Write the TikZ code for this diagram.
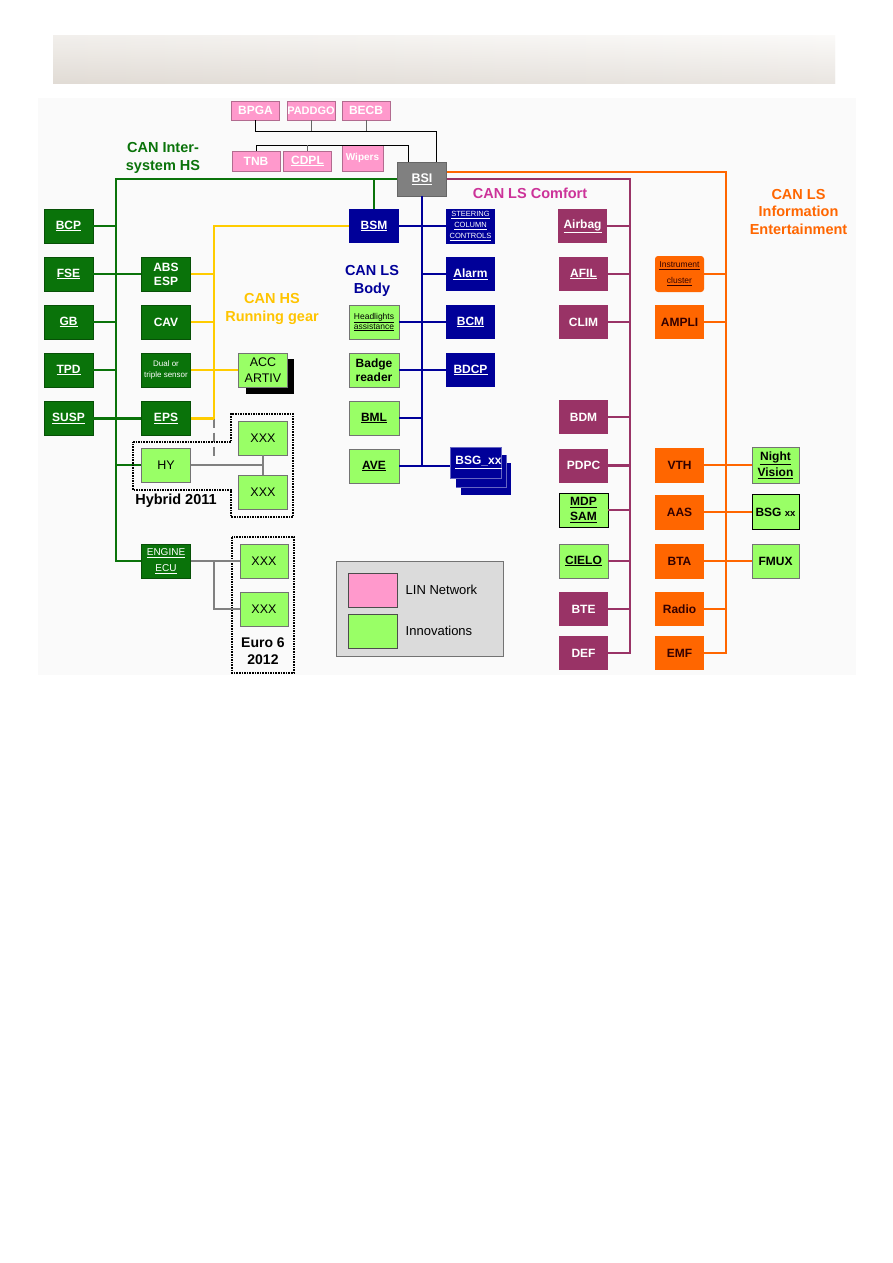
\documentclass[tikz,border=0pt]{standalone}
\usepackage{fontspec}
\setmainfont{Liberation Sans}
\usetikzlibrary{positioning}

\definecolor{cgreen}{RGB}{10,115,10}
\definecolor{clgreen}{RGB}{153,255,102}
\definecolor{cyellow}{RGB}{255,204,0}
\definecolor{cblue}{RGB}{0,0,153}
\definecolor{cpurple}{RGB}{153,51,102}
\definecolor{cmagenta}{RGB}{204,51,153}
\definecolor{corange}{RGB}{255,102,0}
\definecolor{cpink}{RGB}{255,153,204}
\definecolor{cgray}{RGB}{128,128,128}
\definecolor{hdark}{RGB}{212,204,195}
\definecolor{hlight}{RGB}{246,244,241}

\newcommand{\fsz}[2]{\fontsize{#1}{#2}\selectfont}

\tikzset{
	box/.style={minimum width=49pt, minimum height=34pt, inner sep=0pt, align=center, font=\bfseries\fsz{12}{14}},
	gbox/.style={box, fill=cgreen, draw=cgreen!70!black, text=white},
	bbox/.style={box, fill=cblue, text=white},
	pbox/.style={box, fill=cpurple, text=white},
	obox/.style={box, fill=corange, text=black!80!red},
	nbox/.style={box, fill=clgreen, draw=black!55, text=black},
	xbox/.style={nbox, font=\fsz{12.5}{16}},
	lbox/.style={box, fill=cpink, draw=cpink!70!black, text=white, minimum height=19pt, minimum width=48pt},
	bus/.style={line width=2.6pt},
	gbus/.style={bus, draw=cgreen},
	ybus/.style={bus, draw=cyellow},
	bbus/.style={bus, draw=cblue},
	pbus/.style={bus, draw=cpurple},
	obus/.style={bus, draw=corange},
	grbus/.style={bus, draw=cgray},
	linline/.style={line width=1pt, draw=black},
	netlabel/.style={font=\bfseries\fsz{14.5}{17.5}, align=center},
	frame/.style={densely dotted, line width=1.6pt}
}

\begin{document}
\begin{tikzpicture}[x=1pt,y=-1pt]
	\useasboundingbox (0,0) rectangle (893,1263);
	% header band and background
	\shade[top color=hlight, bottom color=hdark] (53,36) rectangle (835,83);
	\shade[left color=hdark!40!white, right color=white, opacity=0.5] (53,36) rectangle (835,83);
	\fill[black!2] (38,98) rectangle (856,675);

	% LIN network
	\node[lbox] (BPGA) at (255.5,110.5) {BPGA};
	\node[lbox, font=\bfseries\fsz{11}{13}] (PADDGO) at (311,110.5) {PADDGO};
	\node[lbox] (BECB) at (366,110.5) {BECB};
	\node[lbox, minimum height=20pt] (TNB) at (256,161) {TNB};
	\node[lbox, minimum height=20pt] (CDPL) at (307.5,161) {\underline{CDPL}};
	\node[lbox, minimum width=41pt, minimum height=26pt, font=\bfseries\fsz{10}{12}] (Wipers) at (362.5,158) {Wipers};

	\node[box, fill=cgray, draw=black!60, text=white, font=\bfseries\fsz{12.5}{14}] (BSI) at (422,179) {\underline{BSI}};

	\coordinate (linA) at (436,131);
	\coordinate (linB) at (408,145);
	\draw[linline] (BPGA.south) |- (linA) -- (linA |- BSI.north);
	\draw[linline, black!60] (PADDGO.south) -- (PADDGO.south |- linA);
	\draw[linline, black!60] (BECB.south) -- (BECB.south |- linA);
	\draw[linline] (TNB.north) |- (linB) -- (linB |- BSI.north);
	\draw[linline, black!60] (CDPL.north) -- (CDPL.north |- linB);

	% CAN inter-system HS
	\foreach \n/\y in {BCP/226,FSE/274,GB/322,TPD/370,SUSP/418.5} {
		\node[gbox] (\n) at (68.5,\y) {\underline{\n}};
	}
	\node[gbox] (ABS) at (166,274) {ABS\\ESP};
	\node[gbox, font=\fsz{8}{11}] (DUAL) at (166,370) {Dual or\\triple sensor};
	\node[gbox] (CAV) at (166,322) {CAV};
	\node[gbox] (EPS) at (166,418.5) {\underline{EPS}};
	\node[xbox] (HY) at (166,465) {HY};
	\node[gbox, font=\fsz{10}{12}] (ECU) at (166,561) {\underline{ENGINE}\\[4pt]\underline{ECU}};

	% CAN LS body
	\node[bbox, minimum width=50pt] (BSM) at (374,226) {\underline{BSM}};
	\node[nbox, minimum width=50pt, font=\fsz{8.5}{10}] (HEAD) at (374,322) {\underline{Headlights}\\\underline{assistance}};
	\node[nbox, minimum width=50pt] (BADGE) at (374,370) {Badge\\reader};
	\node[nbox, minimum width=50pt] (BML) at (374,418) {\underline{BML}};
	\node[nbox, minimum width=50pt] (AVE) at (374,466) {\underline{AVE}};
	\node[bbox, font=\fsz{7.5}{9}, minimum height=35pt] (STEER) at (470.5,226) {\underline{STEERING}\\[2pt]\underline{COLUMN}\\[2pt]\underline{CONTROLS}};
	\node[bbox] (ALARM) at (470.5,274) {\underline{Alarm}};
	\node[bbox] (BCM) at (470.5,322) {\underline{BCM}};
	\node[bbox] (BDCP) at (470.5,370) {\underline{BDCP}};
	\fill[cblue] (461,463) rectangle (511,495);
	\draw[cblue!60!white, line width=0.6pt] (456,455) rectangle (506,487);
	\fill[cblue] (456,455) rectangle (506,487);
	\node[bbox, minimum width=50pt, minimum height=31pt, draw=cblue!60!white, line width=0.6pt] (BSGa) at (476,462.5) {\hspace*{5pt}\underline{BSG\_xx}};
	\node[netlabel, text=cblue] (lblBody) at (372,281) {CAN LS\\Body};

	\coordinate (gnw) at (116,179);
	\coordinate (gsw) at (116,561);
	\draw[gbus] (BSI.west) -- (gnw) -- (gsw) -- (ECU.west);
	\draw[gbus] (BSM.north) -- (BSM.north |- gnw);
	\foreach \n in {BCP,GB,TPD} {
		\draw[gbus] (\n.east) -- (\n.east -| gnw);
	}
	\draw[gbus] (FSE) -- (ABS);
	\draw[gbus] (SUSP) -- (EPS);
	\draw[gbus] (HY.west) -- (HY.west -| gnw);
	\node[netlabel, text=cgreen] (lblInter) at (163,158) {CAN Inter-\\system HS};

	% CAN HS running gear
	\fill[black] (246,359) rectangle (294,394);
	\node[xbox] (ACC) at (263,370) {ACC\\ARTIV};
	\node[netlabel, text=cyellow!90!orange] (lblRun) at (272,309) {CAN HS\\Running gear};

	\coordinate (ytop) at (214,226);
	\coordinate (ybot) at (214,418.5);
	\coordinate (ydash) at (214,456);
	\draw[bus, cgray, dash pattern=on 9pt off 5pt] (ybot) -- (ydash);
	\draw[ybus] (BSM.west) -- (ytop) -- (ybot);
	\foreach \n in {ABS,CAV,EPS} {
		\draw[ybus] (\n.east) -- (\n.east -| ytop);
	}
	\draw[ybus] (DUAL) -- (ACC);

	% hybrid 2011
	\node[xbox] (XXXa) at (263,438) {XXX};
	\node[xbox] (XXXb) at (263,492) {XXX};
	\draw[frame] (133,442) -- (231,442) -- (231,414) -- (293,414) -- (293,517) -- (231,517) -- (231,490) -- (133,490) -- cycle;
	\draw[grbus] (HY.east) -- (HY.east -| XXXa.south);
	\draw[grbus] (XXXa) -- (XXXb);
	\node[font=\bfseries\fsz{14.5}{17}] (lblHybrid) at (176,501) {Hybrid 2011};

	% euro 6 2012
	\node[xbox, minimum width=48pt] (XXXc) at (264,561) {XXX};
	\node[xbox, minimum width=48pt] (XXXd) at (264,609) {XXX};
	\draw[frame] (232,537) rectangle (294,673);
	\coordinate (euroFork) at (214,561);
	\draw[grbus] (ECU) -- (XXXc);
	\draw[grbus] (euroFork) |- (XXXd.west);
	\node[font=\bfseries\fsz{14}{17}, align=center] (lblEuro) at (263,651) {Euro 6\\2012};

	\coordinate (bbot) at (422,466);
	\draw[bbus] (BSI.south) -- (bbot) -- (bbot -| BSGa.west);
	\draw[bbus] (BSM) -- (STEER);
	\draw[bbus] (HEAD) -- (BCM);
	\draw[bbus] (BADGE) -- (BDCP);
	\foreach \n in {ALARM} {
		\draw[bbus] (\n.west) -- (\n.west -| bbot);
	}
	\foreach \n in {BML,AVE} {
		\draw[bbus] (\n.east) -- (\n.east -| bbot);
	}

	% CAN LS comfort
	\node[pbox] (AIRBAG) at (582.5,226) {\underline{Airbag}};
	\node[pbox] (AFIL) at (583.5,274) {\underline{AFIL}};
	\node[pbox] (CLIM) at (583.5,322) {CLIM};
	\node[pbox] (BDM) at (583.5,417) {BDM};
	\node[pbox] (PDPC) at (583.5,465.5) {PDPC};
	\node[nbox, draw=black, font=\bfseries\fsz{12}{15.5}] (MDP) at (583.5,510) {\underline{MDP}\\\underline{SAM}};
	\node[nbox] (CIELO) at (583.5,561) {\underline{CIELO}};
	\node[pbox] (BTE) at (583.5,609) {BTE};
	\node[pbox] (DEF) at (583.5,653) {DEF};
	\node[netlabel, text=cmagenta] (lblComfort) at (530,193) {CAN LS Comfort};

	\coordinate (pne) at (630,179);
	\coordinate (pse) at (630,653);
	\draw[pbus] (BSI.east) -- (pne) -- (pse) -- (DEF.east);
	\foreach \n in {AIRBAG,AFIL,CLIM,BDM,PDPC,MDP,CIELO,BTE} {
		\draw[pbus] (\n.east) -- (\n.east -| pne);
	}

	% CAN LS information entertainment
	\node[obox, rounded corners=3pt, font=\fsz{8.5}{10}, minimum height=36pt] (INSTR) at (679.5,274) {\underline{Instrument}\\[6pt]\underline{cluster}};
	\node[obox] (AMPLI) at (679.5,322) {AMPLI};
	\node[obox, minimum height=35pt] (VTH) at (679.5,465) {VTH};
	\node[obox, minimum height=35pt] (AAS) at (679.5,512) {AAS};
	\node[obox, minimum height=35pt] (BTA) at (679.5,561) {BTA};
	\node[obox] (RADIO) at (679.5,609) {Radio};
	\node[obox] (EMF) at (679.5,653) {EMF};
	\node[nbox, minimum width=47pt, minimum height=36pt, font=\bfseries\fsz{12}{16}] (NIGHT) at (775.5,465) {\underline{Night}\\\underline{Vision}};
	\node[nbox, minimum width=47pt, minimum height=35pt, draw=black] (BSGR) at (775.5,512) {BSG {\fsz{9.5}{11}xx}};
	\node[nbox, minimum width=47pt] (FMUX) at (775.5,561) {FMUX};
	\node[netlabel, text=corange] (lblInfo) at (798.5,212) {CAN LS\\Information\\Entertainment};

	\coordinate (bsiTop) at ([yshift=7pt]BSI.east);
	\coordinate (one) at (726,172);
	\coordinate (ose) at (726,653);
	\draw[obus] (bsiTop) -- (one) -- (ose) -- (EMF.east);
	\foreach \n in {INSTR,AMPLI,RADIO} {
		\draw[obus] (\n.east) -- (\n.east -| one);
	}
	\draw[obus] (VTH) -- (NIGHT);
	\draw[obus] (AAS) -- (BSGR);
	\draw[obus] (BTA) -- (FMUX);

	% legend
	\node[draw=black!55, fill=black!14, minimum width=167pt, minimum height=95pt] (LEGEND) at (419.5,608.5) {};
	\node[box, fill=cpink, draw=black!70] (legLin) at (372.5,590) {};
	\node[box, fill=clgreen, draw=black!70] (legNew) at (372.5,631) {};
	\node[right=5pt of legLin, font=\fsz{13}{15}] (txtLin) {LIN Network};
	\node[right=5pt of legNew, font=\fsz{13}{15}] (txtNew) {Innovations};
\end{tikzpicture}
\end{document}
